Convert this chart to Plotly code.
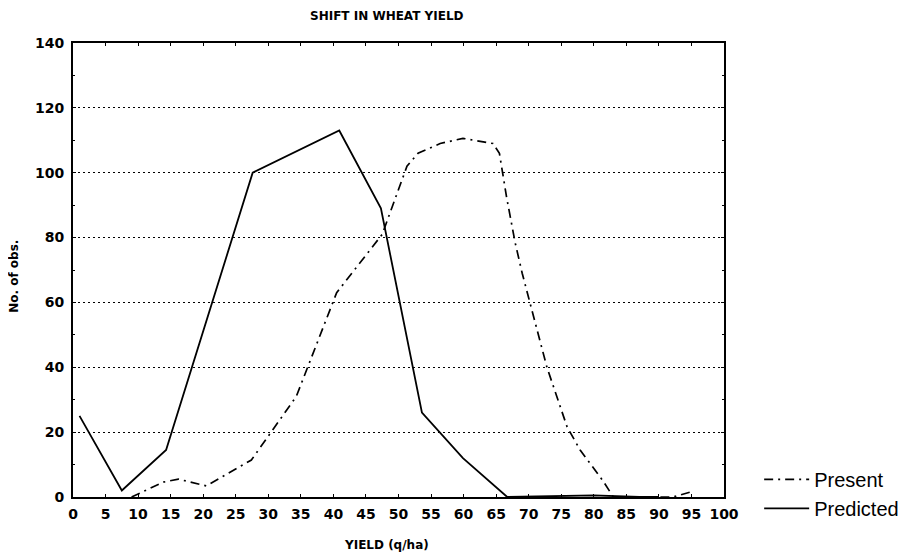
import plotly.graph_objects as go

# Data
pred_x = [1, 7.5, 14.3, 27.6, 40.9, 47.3, 53.6, 59.9, 66.7, 74, 80, 87, 90]
pred_y = [25, 2, 14.5, 100, 113, 89, 26, 12, 0, 0.3, 0.5, 0, 0]

pres_x = [9, 13.9, 16.2, 20.5, 27.4, 34.3, 40.5, 47.5, 51.3, 53, 56.4, 59.9, 64.5, 65.5, 66.6, 67.9, 69, 72.8, 75.9, 77.9, 81.4, 83, 92.2, 94.8]
pres_y = [0, 4.6, 5.5, 3.4, 11.4, 31, 63, 81, 102, 106, 109, 110.6, 109, 106, 92.5, 78.6, 69, 40, 21.6, 14.5, 5, 0, 0, 1.5]

x_ticks = list(range(0, 101, 5))
y_ticks = list(range(0, 141, 20))

title_text = "SHIFT IN WHEAT YIELD"
x_title = "YIELD (q/ha)"
y_title = "No. of obs."

fig = go.Figure()
fig.add_trace(go.Scatter(x=pres_x, y=pres_y, mode="lines", name="Present",
                         line=dict(color="black", width=1.7, dash="9px,5px,2px,5px")))
fig.add_trace(go.Scatter(x=pred_x, y=pred_y, mode="lines", name="Predicted",
                         line=dict(color="black", width=1.8)))

bold = dict(family="DejaVu Sans", size=12, color="black", weight="bold")
tick_font = dict(family="DejaVu Sans", size=14, color="black", weight="bold")

fig.update_layout(
    width=909, height=554,
    margin=dict(l=65, r=193, t=35, b=65),
    paper_bgcolor="white", plot_bgcolor="white",
    showlegend=True,
    legend=dict(x=1.054, y=0.007, xanchor="left", yanchor="middle", bgcolor="rgba(0,0,0,0)",
                font=dict(family="Liberation Sans, Arial", size=20, color="black"),
                itemwidth=45, tracegroupgap=0),
    xaxis=dict(range=[0, 100], tickmode="array", tickvals=x_ticks, ticktext=[str(v) for v in x_ticks],
               showgrid=False, zeroline=False, showline=True, linecolor="black", linewidth=2,
               mirror="ticks", ticks="inside", ticklen=3, tickcolor="black",
               tickfont=tick_font, ticklabelstandoff=3),
    yaxis=dict(range=[0, 140], tickmode="array", tickvals=y_ticks, ticktext=[str(v) for v in y_ticks],
               showgrid=True, gridcolor="black", gridwidth=1, griddash="2px,3px",
               zeroline=False, showline=True, linecolor="black", linewidth=2,
               mirror="ticks", ticks="inside", ticklen=3, tickcolor="black",
               minor=dict(ticks="inside", ticklen=2, dtick=10, tickcolor="black", showgrid=False),
               tickfont=tick_font, ticklabelstandoff=4),
    annotations=[
        dict(text=title_text, xref="paper", yref="paper", x=0.482, y=1.0595,
             xanchor="center", yanchor="middle", showarrow=False, font=bold),
        dict(text=x_title, xref="paper", yref="paper", x=0.481, y=-0.1057,
             xanchor="center", yanchor="middle", showarrow=False, font=bold),
        dict(text=y_title, xref="paper", yref="paper", x=-0.0906, y=0.485, textangle=-90,
             xanchor="center", yanchor="middle", showarrow=False, font=bold),
    ],
)

fig.write_html("out.html")
